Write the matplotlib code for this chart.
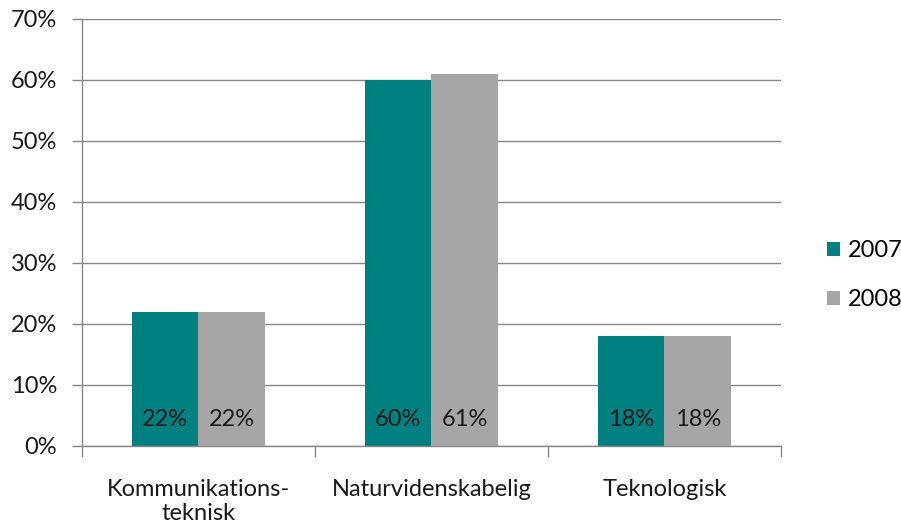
import matplotlib
matplotlib.use("Agg")
import matplotlib.pyplot as plt
import numpy as np
from matplotlib.ticker import FixedLocator, PercentFormatter

categories = ["Kommunikations-\nteknisk", "Naturvidenskabelig", "Teknologisk"]
years = ["2007", "2008"]
values_2007 = [22, 60, 18]
values_2008 = [22, 61, 18]
colors = ["#008080", "#A6A6A6"]

plt.rcParams["font.family"] = ["Lato", "DejaVu Sans"]
fs = 17

fig = plt.figure(figsize=(9.01, 5.30), dpi=100)
ax = fig.add_axes([0.091, 0.1585, 0.7758, 0.8057])

x = np.arange(len(categories))
w = 0.286
series = [values_2007, values_2008]
for i, (vals, year, col) in enumerate(zip(series, years, colors)):
    pos = x + (i - 0.5) * w
    ax.bar(pos, vals, width=w, color=col, label=year, zorder=2)
    for p, v in zip(pos, vals):
        ax.text(p, 4.4, f"{v}%", ha="center", va="center", fontsize=fs,
                color="#1a1a1a", zorder=3)

ax.set_xlim(-0.5, len(categories) - 0.5)
ax.set_ylim(0, 70)
ax.set_yticks(np.arange(0, 71, 10))
ax.yaxis.set_major_formatter(PercentFormatter(decimals=0))
ax.yaxis.grid(True, color="#868686", linewidth=1)
ax.set_axisbelow(True)

ax.set_xticks(x)
ax.set_xticklabels(categories, fontsize=fs, color="#1a1a1a", linespacing=1.15)
ax.xaxis.set_minor_locator(FixedLocator(np.arange(-0.5, len(categories), 1.0)))
ax.tick_params(axis="x", which="major", length=0, pad=24)
ax.tick_params(axis="x", which="minor", length=8, color="#868686", width=1)
ax.tick_params(axis="y", length=7, color="#868686", width=1, labelsize=fs,
               labelcolor="#1a1a1a", pad=11)

for s in ["top", "right"]:
    ax.spines[s].set_visible(False)
for s in ["left", "bottom"]:
    ax.spines[s].set_color("#868686")
    ax.spines[s].set_linewidth(1)

ax.legend(loc="center left", bbox_to_anchor=(1.035, 0.40), frameon=False,
          fontsize=fs, handlelength=0.55, handleheight=0.55, handletextpad=0.35,
          labelspacing=1.2)

fig.savefig("out.png", dpi=100)
